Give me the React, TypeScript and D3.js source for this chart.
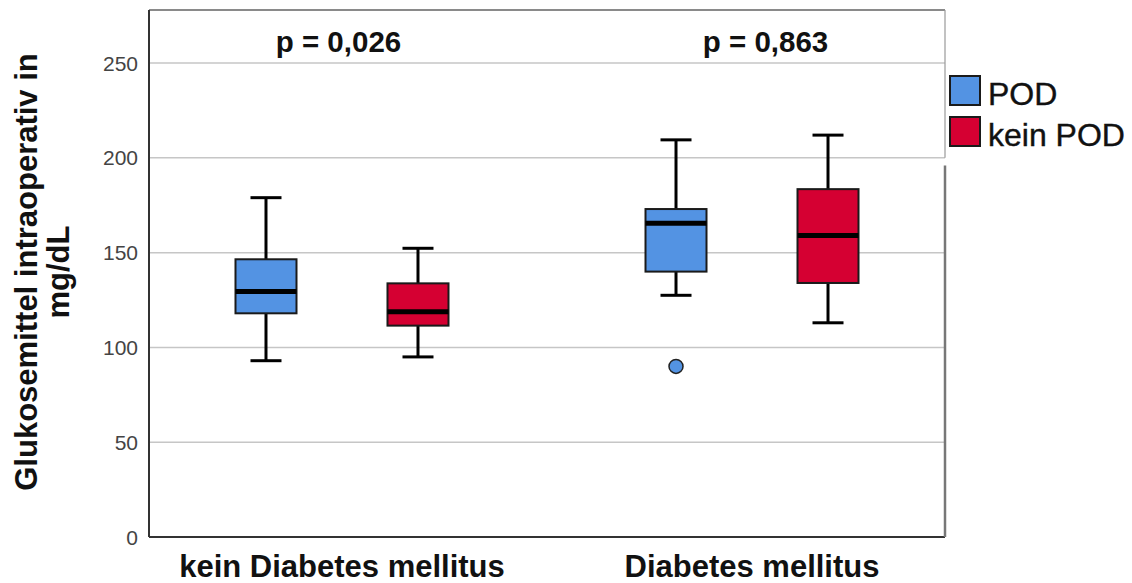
import * as d3 from "d3";
import { useEffect, useRef } from "react";

// categories and series
const categories = ["kein Diabetes mellitus", "Diabetes mellitus"];
const groups = ["POD", "kein POD"];
const groupColors = ["#5393E3", "#D50032"];

// box plot stats per group, one value per category
const podLow = [93, 127.5];
const podQ1 = [118, 140];
const podMedian = [129.5, 165.5];
const podQ3 = [146.5, 173];
const podHigh = [179, 209.5];
const podOutliers = [[], [90]];

const keinLow = [95, 113];
const keinQ1 = [111.5, 134];
const keinMedian = [118.8, 159];
const keinQ3 = [133.8, 183.5];
const keinHigh = [152.3, 212];
const keinOutliers = [[], []];

const pValues = ["p = 0,026", "p = 0,863"];
const yTicks = [0, 50, 100, 150, 200, 250];

const FONT = "'Liberation Sans', Arial, sans-serif";

export default function App() {
  const svgRef = useRef<SVGSVGElement | null>(null);

  const width = 1132;
  const height = 583;
  const frame = { left: 149, right: 945, top: 10, bottom: 537 };

  useEffect(() => {
    const svg = d3.select(svgRef.current);
    svg.selectAll("*").remove();

    const yScale = d3.scaleLinear().domain([0, 278]).range([frame.bottom, frame.top]);
    const xScale = d3
      .scalePoint<string>()
      .domain(categories)
      .range([frame.left, frame.right])
      .padding(0.4707);
    const subScale = d3.scalePoint<string>().domain(groups).range([-76, 76]);
    // annotations sit a little apart from the group centres
    const pScale = d3
      .scalePoint<string>()
      .domain(categories)
      .range([frame.left + 5, frame.right + 5])
      .padding(0.432);

    // gridlines
    svg
      .append("g")
      .selectAll("line")
      .data(yTicks.filter((t) => t > 0))
      .join("line")
      .attr("x1", frame.left)
      .attr("x2", frame.right)
      .attr("y1", (d) => yScale(d))
      .attr("y2", (d) => yScale(d))
      .attr("stroke", "#c6c6c6")
      .attr("stroke-width", 1.5);

    // tick labels
    svg
      .append("g")
      .selectAll("text")
      .data(yTicks)
      .join("text")
      .attr("x", frame.left - 11)
      .attr("y", (d) => yScale(d))
      .attr("dy", "0.36em")
      .attr("text-anchor", "end")
      .attr("font-family", FONT)
      .attr("font-size", 21)
      .attr("fill", "#444")
      .text((d) => d);

    // frame
    const fr = svg.append("g");
    fr.append("line")
      .attr("x1", frame.left).attr("x2", frame.right)
      .attr("y1", frame.top).attr("y2", frame.top)
      .attr("stroke", "#8a8a8a").attr("stroke-width", 2);
    fr.append("line")
      .attr("x1", frame.left).attr("x2", frame.left)
      .attr("y1", frame.top).attr("y2", frame.bottom)
      .attr("stroke", "#333").attr("stroke-width", 2);
    fr.append("line")
      .attr("x1", frame.left).attr("x2", frame.right)
      .attr("y1", frame.bottom).attr("y2", frame.bottom)
      .attr("stroke", "#333").attr("stroke-width", 2);
    fr.append("line")
      .attr("x1", frame.right).attr("x2", frame.right)
      .attr("y1", frame.top).attr("y2", yScale(200))
      .attr("stroke", "#999").attr("stroke-width", 1.2);
    fr.append("line")
      .attr("x1", frame.right).attr("x2", frame.right)
      .attr("y1", yScale(196)).attr("y2", frame.bottom)
      .attr("stroke", "#777").attr("stroke-width", 2.5);

    const series = [
      { low: podLow, q1: podQ1, med: podMedian, q3: podQ3, high: podHigh, out: podOutliers },
      { low: keinLow, q1: keinQ1, med: keinMedian, q3: keinQ3, high: keinHigh, out: keinOutliers },
    ];

    const boxWidth = 61;
    const capWidth = 31;

    series.forEach((s, gi) => {
      const g = svg.append("g");
      categories.forEach((cat, ci) => {
        const cx = (xScale(cat) as number) + (subScale(groups[gi]) as number);
        // whiskers
        g.append("line")
          .attr("x1", cx).attr("x2", cx)
          .attr("y1", yScale(s.high[ci])).attr("y2", yScale(s.low[ci]))
          .attr("stroke", "#000").attr("stroke-width", 3);
        [s.high[ci], s.low[ci]].forEach((v) => {
          g.append("line")
            .attr("x1", cx - capWidth / 2).attr("x2", cx + capWidth / 2)
            .attr("y1", yScale(v)).attr("y2", yScale(v))
            .attr("stroke", "#000").attr("stroke-width", 3);
        });
        // box
        g.append("rect")
          .attr("x", cx - boxWidth / 2)
          .attr("y", yScale(s.q3[ci]))
          .attr("width", boxWidth)
          .attr("height", yScale(s.q1[ci]) - yScale(s.q3[ci]))
          .attr("fill", groupColors[gi])
          .attr("stroke", "#1a1a1a")
          .attr("stroke-width", 2);
        // median
        g.append("line")
          .attr("x1", cx - boxWidth / 2).attr("x2", cx + boxWidth / 2)
          .attr("y1", yScale(s.med[ci])).attr("y2", yScale(s.med[ci]))
          .attr("stroke", "#000").attr("stroke-width", 5);
        // outliers
        s.out[ci].forEach((v) => {
          g.append("circle")
            .attr("cx", cx)
            .attr("cy", yScale(v))
            .attr("r", 7)
            .attr("fill", groupColors[gi])
            .attr("stroke", "#222")
            .attr("stroke-width", 1.5);
        });
      });
    });

    // p values
    svg
      .append("g")
      .selectAll("text")
      .data(pValues)
      .join("text")
      .attr("x", (d, i) => pScale(categories[i]) as number)
      .attr("y", 52)
      .attr("text-anchor", "middle")
      .attr("font-family", FONT)
      .attr("font-weight", "bold")
      .attr("font-size", 29.5)
      .attr("fill", "#111")
      .text((d) => d);

    // x labels
    svg
      .append("g")
      .selectAll("text")
      .data(categories)
      .join("text")
      .attr("x", (d) => xScale(d) as number)
      .attr("y", 577)
      .attr("text-anchor", "middle")
      .attr("font-family", FONT)
      .attr("font-weight", "bold")
      .attr("font-size", 31)
      .attr("fill", "#111")
      .text((d) => d);

    // y title
    const yt = svg
      .append("text")
      .attr("transform", "translate(0,272) rotate(-90)")
      .attr("text-anchor", "middle")
      .attr("font-family", FONT)
      .attr("font-weight", "bold")
      .attr("font-size", 31)
      .attr("fill", "#111");
    yt.append("tspan").attr("x", 0).attr("y", 37).text("Glukosemittel intraoperativ in");
    yt.append("tspan").attr("x", 0).attr("y", 69).text("mg/dL");

    // legend
    const lg = svg
      .append("g")
      .selectAll("g")
      .data(groups)
      .join("g")
      .attr("transform", (d, i) => `translate(950, ${76 + i * 41})`);
    lg.append("rect")
      .attr("width", 30)
      .attr("height", 29)
      .attr("fill", (d, i) => groupColors[i])
      .attr("stroke", "#1a1a1a")
      .attr("stroke-width", 2);
    lg.append("text")
      .attr("x", 38)
      .attr("y", 29)
      .attr("font-family", FONT)
      .attr("font-size", 32)
      .attr("fill", "#111")
      .attr("stroke", "#111")
      .attr("stroke-width", 0.4)
      .text((d) => d);
  }, []);

  return (
    <svg
      ref={svgRef}
      width={width}
      height={height}
      style={{ position: "absolute", left: 0, top: 0, background: "#fff" }}
    />
  );
}
